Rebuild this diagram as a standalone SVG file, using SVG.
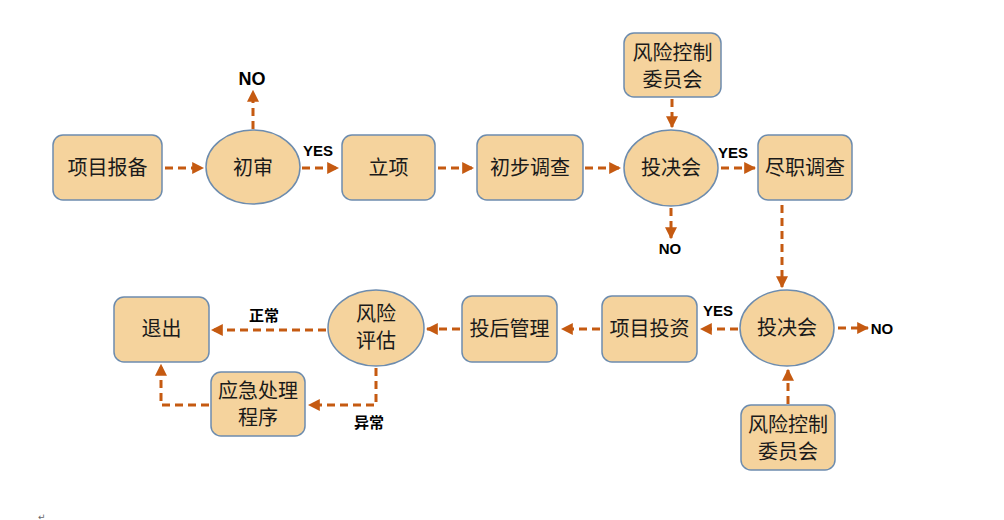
<svg xmlns="http://www.w3.org/2000/svg" width="1004" height="520" viewBox="0 0 1004 520">
<style>
.n{fill:#F5D39D;stroke:#6D8CAE;stroke-width:1.5}
.t{font-family:"Noto Sans CJK SC","Noto Sans CJK JP",sans-serif;font-size:20px;fill:#1a1a1a;text-anchor:middle}
.l{font-family:"Liberation Sans",Arial,sans-serif;font-weight:bold;font-size:15px;fill:#000;text-anchor:middle}
.lc{font-family:"Noto Sans CJK SC",sans-serif;font-weight:bold;font-size:15px;fill:#000;text-anchor:middle}
.c{fill:none;stroke:#C55A11;stroke-width:3;stroke-dasharray:8 5}
</style>
<defs>
<marker id="a" viewBox="0 0 10 10" refX="9" refY="5" markerWidth="4" markerHeight="4" orient="auto" markerUnits="strokeWidth">
<path d="M0,0 L10,5 L0,10 z" fill="#C55A11"/>
</marker>
</defs>
<rect width="1004" height="520" fill="#fff"/>
<g id="connectors">
<path class="c" marker-end="url(#a)" d="M165,168 H203"/>
<path class="c" marker-end="url(#a)" d="M253,129 V91"/>
<path class="c" marker-end="url(#a)" d="M302,168 H338"/>
<path class="c" marker-end="url(#a)" d="M438,168 H473"/>
<path class="c" marker-end="url(#a)" d="M585,168 H620"/>
<path class="c" marker-end="url(#a)" d="M672,99 V127"/>
<path class="c" marker-end="url(#a)" d="M721,168 H755"/>
<path class="c" marker-end="url(#a)" d="M671,208 V238"/>
<path class="c" marker-end="url(#a)" d="M782,205 V287"/>
<path class="c" marker-end="url(#a)" d="M838,328 H868"/>
<path class="c" marker-end="url(#a)" d="M788,404 V370"/>
<path class="c" marker-end="url(#a)" d="M738,329 H701"/>
<path class="c" marker-end="url(#a)" d="M600,329 H562"/>
<path class="c" marker-end="url(#a)" d="M460,329 H427"/>
<path class="c" marker-end="url(#a)" d="M326,330 H212"/>
<path class="c" marker-end="url(#a)" d="M376,368 V405 H309"/>
<path class="c" marker-end="url(#a)" d="M209,405 H161 V365"/>
</g>
<g id="n1"><rect class="n" x="53" y="135" width="109" height="65" rx="10"/><text class="t" x="107.5" y="175">项目报备</text></g>
<g id="n2"><ellipse class="n" cx="253" cy="167" rx="47" ry="37"/><text class="t" x="253" y="175">初审</text></g>
<g id="n3"><rect class="n" x="342" y="135" width="93" height="65" rx="10"/><text class="t" x="388.5" y="175">立项</text></g>
<g id="n4"><rect class="n" x="477" y="135" width="106" height="65" rx="10"/><text class="t" x="530" y="175">初步调查</text></g>
<g id="n5"><ellipse class="n" cx="671" cy="168" rx="47" ry="38"/><text class="t" x="671" y="175">投决会</text></g>
<g id="n6"><rect class="n" x="624" y="33" width="97" height="64" rx="10"/><text class="t" x="672.5" y="60">风险控制</text><text class="t" x="672.5" y="87">委员会</text></g>
<g id="n7"><rect class="n" x="758" y="135" width="94" height="65" rx="10"/><text class="t" x="805" y="175">尽职调查</text></g>
<g id="n8"><ellipse class="n" cx="787" cy="328" rx="47" ry="38"/><text class="t" x="787" y="335">投决会</text></g>
<g id="n9"><rect class="n" x="741" y="405" width="94" height="65" rx="10"/><text class="t" x="788" y="432">风险控制</text><text class="t" x="788" y="459">委员会</text></g>
<g id="n10"><rect class="n" x="602" y="296" width="95" height="66" rx="10"/><text class="t" x="649.5" y="336">项目投资</text></g>
<g id="n11"><rect class="n" x="462" y="296" width="95" height="66" rx="10"/><text class="t" x="509.5" y="336">投后管理</text></g>
<g id="n12"><ellipse class="n" cx="376" cy="328" rx="48" ry="38"/><text class="t" x="376" y="321">风险</text><text class="t" x="376" y="348">评估</text></g>
<g id="n13"><rect class="n" x="114" y="297" width="95" height="65" rx="10"/><text class="t" x="161.5" y="336">退出</text></g>
<g id="n14"><rect class="n" x="211" y="372" width="94" height="64" rx="10"/><text class="t" x="258" y="398">应急处理</text><text class="t" x="258" y="425">程序</text></g>
<g id="labels">
<text class="l" x="252" y="85" style="font-size:18px">NO</text>
<text class="l" x="318" y="156">YES</text>
<text class="l" x="733" y="158">YES</text>
<text class="l" x="670" y="254">NO</text>
<text class="l" x="882" y="334">NO</text>
<text class="l" x="718" y="316">YES</text>
<text class="lc" x="264" y="321">正常</text>
<text class="lc" x="369" y="428">异常</text>
<text x="38" y="520" font-family="DejaVu Sans,sans-serif" font-size="9" fill="#666">↵</text>
</g>
</svg>
